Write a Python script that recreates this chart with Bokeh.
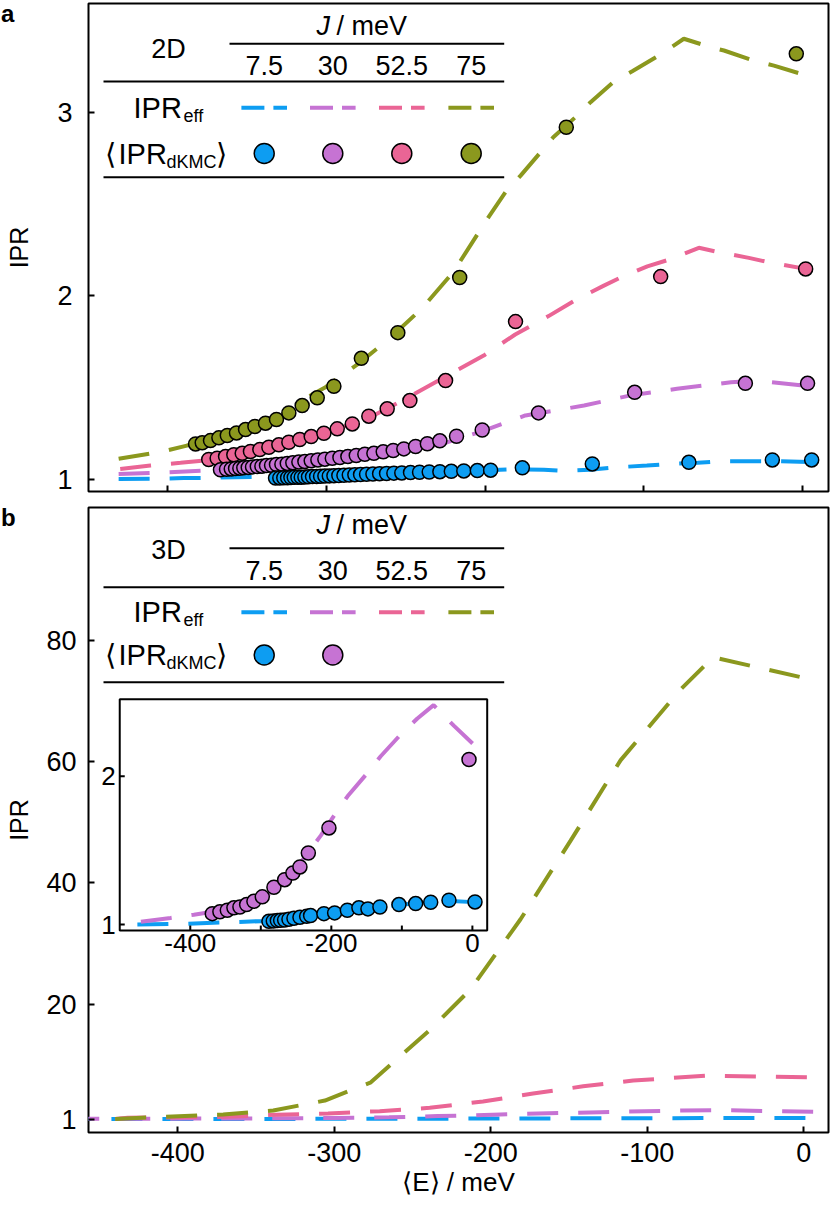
from bokeh.plotting import figure
from bokeh.models import Range1d, FixedTicker, Div
from bokeh.layouts import column
from bokeh.embed import file_html
from bokeh.resources import INLINE
from bokeh.core.properties import value

FONT = "Liberation Sans"
J_LABELS = ["7.5", "30", "52.5", "75"]
COLORS = ["#0D9DF2", "#C673D3", "#EA6595", "#8B981E"]

# ---------------- Panel a (2D) ----------------
a_eff_E_75 = [-431, -402.5, -388, -370, -350, -330, -312, -300.6, -280, -260, -240, -220, -197.6, -187.1,
              -177.6, -165, -157, -141.9, -133.5, -118.8, -107.2, -90.4, -74.7, -57.8, -49.4, -30.5, -17.9, 0.6]
a_eff_I_75 = [1.113, 1.154, 1.185, 1.215, 1.26, 1.33, 1.448, 1.503, 1.63, 1.77, 1.93, 2.13, 2.432, 2.565,
              2.655, 2.782, 2.864, 2.982, 3.055, 3.167, 3.223, 3.309, 3.40, 3.354, 3.336, 3.281, 3.254, 3.205]
a_eff_E_525 = [-430, -411, -392, -370, -350, -330, -310, -290, -270, -250, -225, -200, -181, -160, -142.9,
               -125.1, -114.6, -97.7, -83, -65.2, -52.6, -33.7, -21, 2.1]
a_eff_I_525 = [1.058, 1.076, 1.091, 1.11, 1.145, 1.185, 1.23, 1.285, 1.35, 1.44, 1.56, 1.68, 1.79, 1.89, 1.978,
               2.056, 2.10, 2.161, 2.20, 2.262, 2.238, 2.207, 2.183, 2.147]
a_eff_E_30 = [-431, -400, -370, -340, -310, -280, -250, -225, -202, -174.6, -156, -137.6, -109, -79, -45,
              -28.5, 2]
a_eff_I_30 = [1.03, 1.04, 1.052, 1.066, 1.085, 1.11, 1.15, 1.20, 1.262, 1.349, 1.376, 1.403, 1.457, 1.494,
              1.530, 1.539, 1.51]
a_eff_E_7 = [-431, -409, -390, -376, -357, -330, -300, -270, -240, -210, -182, -163, -150, -134, -117, -98,
             -84, -66, -52, -33, -16, 4]
a_eff_I_7 = [1.003, 1.004, 1.008, 1.009, 1.013, 1.016, 1.022, 1.03, 1.038, 1.047, 1.057, 1.053, 1.047,
             1.053, 1.067, 1.076, 1.085, 1.091, 1.10, 1.10, 1.10, 1.095]

a_dk_E_75 = [-382.5, -378.3, -373.1, -367.8, -362.5, -356.7, -351.0, -345.1, -338.4, -331.5, -323.7,
             -315.3, -305.8, -295.3, -278, -255, -216, -148.8, -3.8]
a_dk_I_75 = [1.194, 1.200, 1.212, 1.227, 1.240, 1.254, 1.272, 1.289, 1.307, 1.327, 1.363,
             1.403, 1.445, 1.508, 1.66, 1.80, 2.10, 2.918, 3.318]
a_dk_E_525 = [-374.2, -368.9, -363.6, -358.4, -353.1, -347.9, -342.0, -336.3, -330.0, -323.7, -316.8,
              -309.6, -301.6, -293.2, -283.7, -273.3, -261.7, -247.4, -224.9, -180.8, -89.3, 2.1]
a_dk_I_525 = [1.109, 1.116, 1.125, 1.135, 1.143, 1.153, 1.163, 1.176, 1.189, 1.203, 1.218,
              1.234, 1.252, 1.276, 1.303, 1.345, 1.385, 1.430, 1.539, 1.86, 2.105, 2.147]
a_dk_E_30 = [-366.8, -363.0, -360.0, -357.3, -354.6, -352.1, -349.3, -346.6, -343.6, -340.7, -337.8,
             -334.6, -331.5, -328.1, -324.7, -321.2, -317.4, -313.6, -309.6, -305.4, -301.0, -296.3,
             -291.5, -286.5, -281.2, -275.8, -270.1, -264.2, -257.9, -251.2, -243.8, -236.4, -228.5,
             -218.0, -201.8, -166.3, -105.7, -35.9, 3.3]
a_dk_I_30 = [1.053, 1.056, 1.058, 1.060, 1.062, 1.064, 1.066, 1.069, 1.071, 1.073, 1.076,
             1.078, 1.082, 1.084, 1.088, 1.091, 1.095, 1.098, 1.102, 1.107, 1.111, 1.116,
             1.120, 1.125, 1.131, 1.138, 1.143, 1.151, 1.158, 1.167, 1.180, 1.195, 1.211,
             1.236, 1.270, 1.363, 1.475, 1.524, 1.524]
a_dk_E_7 = [-332.1, -329.4, -326.9, -324.5, -322.4, -320.3, -318.0, -315.9, -313.6, -311.3, -308.8,
            -306.2, -303.7, -301.0, -298.2, -295.3, -292.2, -289.0, -285.6, -282.1, -278.5, -274.7,
            -270.7, -266.5, -262.1, -257.5, -252.5, -247.0, -241.3, -235.2, -228.5, -221.3, -213.4,
            -204.9, -196.5, -176.5, -132.4, -71.5, -18.9, 5.9]
a_dk_I_7 = [1.008, 1.009, 1.010, 1.010, 1.011, 1.012, 1.012, 1.013, 1.014, 1.015, 1.016,
            1.017, 1.018, 1.019, 1.020, 1.021, 1.022, 1.023, 1.025, 1.026, 1.027, 1.029,
            1.030, 1.032, 1.033, 1.035, 1.036, 1.038, 1.040, 1.041, 1.043, 1.045, 1.047,
            1.049, 1.051, 1.064, 1.085, 1.094, 1.107, 1.107]

# ---------------- Panel b (3D) ----------------
b_eff_E_75 = [-440, -423, -371, -339, -306, -277, -239, -213, -181, -149, -117, -79, -58, 0]
b_eff_I_75 = [1.0, 1.2, 1.74, 2.4, 4.05, 7.0, 15.7, 22.4, 34.0, 47.0, 60.3, 71.9, 77.3, 73.9]
b_eff_E_525 = [-440, -432, -370, -337, -304, -271, -239, -205, -173, -141, -109, -62, 2]
b_eff_I_525 = [1.0, 1.2, 1.36, 1.7, 1.9, 2.3, 2.85, 3.9, 5.2, 6.4, 7.35, 8.17, 7.9]
b_eff_E_30 = [-470, -428, -395, -350, -300, -265, -234, -215, -194, -177, -151, -130, -102, -78, -55, -26, 7]
b_eff_I_30 = [1.02, 1.045, 1.067, 1.10, 1.17, 1.28, 1.48, 1.60, 1.75, 1.865, 2.01, 2.135, 2.28, 2.39, 2.48, 2.34, 2.19]
b_eff_E_7 = [-475, -409, -333, -290, -250, -200, -150, -100, -60, -30, 7]
b_eff_I_7 = [1.0, 1.005, 1.018, 1.025, 1.045, 1.075, 1.105, 1.135, 1.15, 1.16, 1.15]

b_dk_E_30 = [-368.8, -358.0, -347.5, -338.1, -329.6, -320.1, -309.8, -297.9, -281.4, -266.2, -254.5,
             -244.5, -232.6, -203.4, -4.8]
b_dk_I_30 = [1.074, 1.086, 1.097, 1.113, 1.119, 1.135, 1.157, 1.187, 1.252, 1.303, 1.348,
             1.389, 1.483, 1.652, 2.113]
b_dk_E_7 = [-288.5, -282.3, -276.6, -271.9, -266.2, -260.1, -253.0, -244.5, -235.0, -229.4, -210.5,
            -195.3, -177.3, -160.9, -148.1, -131.1, -104.1, -80.4, -59.1, -33.2, 3.7]
b_dk_I_7 = [1.022, 1.025, 1.027, 1.029, 1.031, 1.036, 1.043, 1.049, 1.056, 1.061, 1.074,
            1.079, 1.097, 1.113, 1.106, 1.119, 1.135, 1.142, 1.151, 1.164, 1.153]

# tick values / labels
a_yticks = [1, 2, 3]
b_yticks = [1, 20, 40, 60, 80]
x_ticks = [-400, -300, -200, -100, 0]
x_tick_labels = ["-400", "-300", "-200", "-100", "0"]
in_xticks_labeled = [-400, -200, 0]
in_xtick_labels = ["-400", "-200", "0"]
in_yticks = [1, 2]
in_ytick_labels = ["1", "2"]

DASH = "31 20"
LW = 4


def base_fig(fw, fh, xr, yr, mbl, mbt, mbb, mbr):
    p = figure(frame_width=fw, frame_height=fh, x_range=Range1d(*xr), y_range=Range1d(*yr),
               output_backend="svg", toolbar_location=None, tools="",
               min_border_left=mbl, min_border_top=mbt, min_border_bottom=mbb, min_border_right=mbr)
    p.grid.visible = False
    p.outline_line_color = "black"
    p.outline_line_width = 2
    p.outline_line_alpha = 1
    p.background_fill_color = "white"
    p.border_fill_color = "white"
    for ax in (p.xaxis[0], p.yaxis[0]):
        ax.axis_line_color = None
        ax.major_tick_in = 6
        ax.major_tick_out = 0
        ax.major_tick_line_width = 2
        ax.major_tick_line_color = "black"
        ax.minor_tick_in = 6
        ax.minor_tick_out = 0
        ax.minor_tick_line_width = 2
        ax.minor_tick_line_color = "black"
        ax.major_label_text_font = FONT
        ax.major_label_text_font_size = "27px"
        ax.major_label_text_color = "black"
        ax.axis_label_text_font = FONT
        ax.axis_label_text_font_style = "normal"
        ax.axis_label_text_font_size = "25px"
        ax.axis_label_text_color = "black"
    p.extra_x_ranges = {"px": Range1d(0, fw)}
    p.extra_y_ranges = {"py": Range1d(fh, 0)}
    return p


LEG_X = [175.7, 244.3, 313.3, 382.7]


def legend_table(p, L, dim_label, n_dots):
    kw = dict(x_range_name="px", y_range_name="py")
    tf = value(FONT)
    common = dict(text_font=tf, text_color="black", text_baseline="middle", **kw)
    p.text(x=[80], y=[L["dd"]], text=[dim_label], text_font_size="27px", text_align="center", **common)
    p.text(x=[228], y=[L["head"]], text=["J"], text_font_size="27px", text_align="left",
           text_font_style="italic", **common)
    p.text(x=[248], y=[L["head"]], text=["/ meV"], text_font_size="27px", text_align="left", **common)
    p.text(x=LEG_X, y=[L["num"]] * 4, text=J_LABELS, text_font_size="27px", text_align="center", **common)
    p.segment(x0=[141, 15, 15], y0=[L["line1"], L["line2"], L["line3"]],
              x1=[415.7] * 3, y1=[L["line1"], L["line2"], L["line3"]],
              line_color="black", line_width=2, **kw)
    p.text(x=[45], y=[L["eff"]], text=["IPR"], text_font_size="29px", text_align="left", **common)
    p.text(x=[95], y=[L["eff"] + 8], text=["eff"], text_font_size="18px", text_align="left", **common)
    for xc, c in zip(LEG_X, COLORS):
        p.segment(x0=[xc - 22.8], y0=[L["eff"]], x1=[xc + 22.8], y1=[L["eff"]],
                  line_color=c, line_width=4, line_dash="23 9", **kw)
    p.text(x=[16], y=[L["dk"]], text=["\u27e8"], text_font_size="29px", text_align="left", **common)
    p.text(x=[30], y=[L["dk"]], text=["IPR"], text_font_size="29px", text_align="left", **common)
    p.text(x=[78], y=[L["dk"] + 8], text=["dKMC"], text_font_size="18px", text_align="left", **common)
    p.text(x=[127], y=[L["dk"]], text=["\u27e9"], text_font_size="29px", text_align="left", **common)
    p.scatter(x=LEG_X[:n_dots], y=[L["dk"]] * n_dots, size=20, marker="circle",
              fill_color=COLORS[:n_dots], line_color="black", line_width=1.5, **kw)


def draw_lines(p, series):
    for E, I, c in series:
        p.line(E, I, line_color=c, line_width=LW, line_dash=DASH)


def draw_dots(p, series, size=14):
    for E, I, c in series:
        p.scatter(E, I, size=size, marker="circle", fill_color=c, line_color="black", line_width=1.5)


def letter_div(letter, top):
    html = ('<div style="font-family: \'Liberation Sans\', Arial, sans-serif; font-size: 24px; '
            'font-weight: bold; line-height: 24px; color: black; margin: 0; padding: 0;">'
            + letter + '</div>')
    return Div(text=html, width=30, height=26, margin=0,
               styles={"position": "absolute", "left": "1px", "top": f"{top}px",
                       "font-size": "24px", "font-weight": "bold", "line-height": "24px"})


FW = 740
MBL = 88

# ---------------- Build panel a ----------------
FHA = 488
pa = base_fig(FW, FHA, (-450.0, 16.5), (0.935, 3.592), MBL, 3, 8, 3)
pa.xaxis[0].ticker = FixedTicker(ticks=[], minor_ticks=x_ticks)
pa.yaxis[0].ticker = FixedTicker(ticks=a_yticks, minor_ticks=[])
pa.yaxis[0].major_label_standoff = 16
pa.yaxis[0].axis_label = "IPR"
pa.yaxis[0].axis_label_standoff = 21

draw_lines(pa, [(a_eff_E_7, a_eff_I_7, COLORS[0]), (a_eff_E_30, a_eff_I_30, COLORS[1]),
                (a_eff_E_525, a_eff_I_525, COLORS[2]), (a_eff_E_75, a_eff_I_75, COLORS[3])])
draw_dots(pa, [(a_dk_E_75, a_dk_I_75, COLORS[3]), (a_dk_E_525, a_dk_I_525, COLORS[2]),
               (a_dk_E_30, a_dk_I_30, COLORS[1]), (a_dk_E_7, a_dk_I_7, COLORS[0])])
legend_table(pa, dict(head=22, line1=40.3, num=62, line2=78, eff=104.3, dk=150, line3=173.7, dd=45), "2D", 4)

# ---------------- Build panel b ----------------
FHB = 625
pb = base_fig(FW, FHB, (-457.06, 15.78), (-1.23, 102.04), MBL, 8, 70, 3)
pb.xaxis[0].ticker = FixedTicker(ticks=x_ticks, minor_ticks=[])
pb.xaxis[0].major_label_overrides = dict(zip(x_ticks, x_tick_labels))
pb.xaxis[0].major_label_standoff = 10
pb.xaxis[0].axis_label = "\u27e8E\u27e9 / meV"
pb.xaxis[0].axis_label_standoff = 2
pb.xaxis[0].axis_label_text_font_size = "26px"
pb.yaxis[0].ticker = FixedTicker(ticks=b_yticks, minor_ticks=[])
pb.yaxis[0].major_label_standoff = 12
pb.yaxis[0].axis_label = "IPR"
pb.yaxis[0].axis_label_standoff = 10

draw_lines(pb, [(b_eff_E_7, b_eff_I_7, COLORS[0]), (b_eff_E_30, b_eff_I_30, COLORS[1]),
                (b_eff_E_525, b_eff_I_525, COLORS[2]), (b_eff_E_75, b_eff_I_75, COLORS[3])])
legend_table(pb, dict(head=17.5, line1=40.8, num=62.5, line2=79.8, eff=104.8, dk=147.5, line3=174.8, dd=42.5), "3D", 2)

# ---------------- Inset (drawn inside panel b through a sub-coordinate mapping) ----------------
in_x = Range1d(-500, 21)
in_y = Range1d(0.96, 2.52)
IN_W, IN_H = 367.4, 231.7  # inset frame size in pixels (for tick lengths)
sub = pb.subplot(x_source=in_x, y_source=in_y,
                 x_target=Range1d(-437.1, -202.3), y_target=Range1d(32.14, 70.37))

sub.line(b_eff_E_7, b_eff_I_7, line_color=COLORS[0], line_width=LW, line_dash=DASH)
sub.line(b_eff_E_30, b_eff_I_30, line_color=COLORS[1], line_width=LW, line_dash=DASH)
sub.scatter(b_dk_E_30, b_dk_I_30, size=14, marker="circle", fill_color=COLORS[1], line_color="black", line_width=1.5)
sub.scatter(b_dk_E_7, b_dk_I_7, size=14, marker="circle", fill_color=COLORS[0], line_color="black", line_width=1.5)

sub.quad(left=[in_x.start], right=[in_x.end], bottom=[in_y.start], top=[in_y.end],
         fill_color=None, line_color="black", line_width=2)
ty = 5 * (in_y.end - in_y.start) / IN_H
tx = 5 * (in_x.end - in_x.start) / IN_W
sub.segment(x0=x_ticks, y0=[in_y.start] * len(x_ticks), x1=x_ticks, y1=[in_y.start + ty] * len(x_ticks),
            line_color="black", line_width=2)
sub.segment(x0=[in_x.start] * len(in_yticks), y0=in_yticks, x1=[in_x.start + tx] * len(in_yticks), y1=in_yticks,
            line_color="black", line_width=2)
sub.text(x=in_xticks_labeled, y=[in_y.start] * len(in_xticks_labeled), text=in_xtick_labels,
         text_font=value(FONT), text_font_size="26px", text_align="center", text_baseline="top",
         y_offset=3, text_color="black")
sub.text(x=[in_x.start] * len(in_yticks), y=in_yticks, text=in_ytick_labels,
         text_font=value(FONT), text_font_size="26px", text_align="right", text_baseline="middle",
         x_offset=-4, text_color="black")

layout = column(pa, pb, letter_div("a", 2), letter_div("b", 506))
open("out.html", "w").write(file_html(layout, INLINE))
